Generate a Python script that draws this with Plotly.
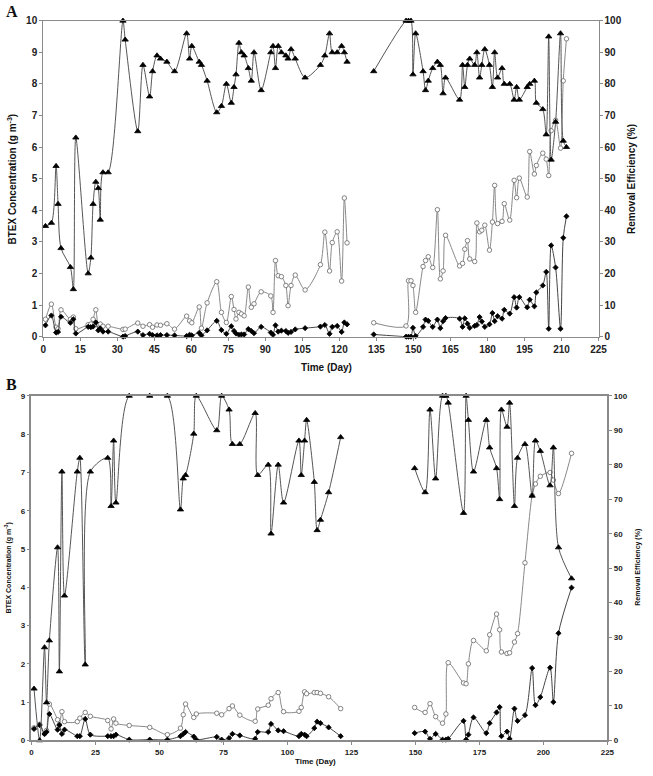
import plotly.graph_objects as go

# ---------------- Panel A data ----------------
a_day = [0.9, 3.3, 5.2, 6.0, 7.2, 11.0, 12.2, 13.2, 18.2, 19.3, 20.2, 21.3, 22.3, 23.1, 24.2, 26.3,
         32.3, 33.2, 38.3, 40.4, 43.1, 44.3, 46.1, 47.5, 50.1, 53.2, 58.1, 59.3, 60.2, 63.2, 64.1,
         66.4, 70.3, 72.2, 74.2, 76.2, 77.3, 78.1, 79.3, 80.3, 81.4, 83.1, 84.3, 85.4, 88.3, 92.2,
         93.1, 94.1, 95.2, 96.5, 98.3, 99.2, 100.4, 102.1, 106.1, 112.3, 114.1, 116.0, 117.1, 119.1,
         120.9, 122.0, 123.1, None,
         133.9, 147.0, 148.0, 149.0, 149.8, 150.9, 153.9, 154.9, 156.0, 157.8, 159.7, 160.9, 162.0,
         163.0, 168.7, 169.9, 170.8, 171.9, 172.8, 174.8, 175.7, 176.8, 177.7, 178.9, 180.8, 182.0,
         182.9, 184.1, 185.9, 186.8, 189.0, 190.8, 191.8, 192.9, 196.1, 197.1, 199.0, 199.8, 202.4,
         203.8, 204.8, 205.8, 207.6, 209.6, 210.7, 212.0]
a_re = [35, 36, 54, 42, 28, 22, 15, 63, 20, 25, 42, 49, 47, 37, 52, 52,
        100, 94, 65, 86, 76, 84, 89, 88, 87, 84, 96, 88, 92, 87, 86,
        81, 71, 73, 80, 74, 79, 83, 93, 90, 89, 85, 81, 90, 78, 90,
        92, 85, 92, 90, 89, 88, 91, 88, 82, 86, 89, 96, 90, 90,
        92, 90, 87, None,
        84, 100, 100, 100, 83, 96, 84, 78, 81, 85, 87, 86, 77,
        82, 75, 86, 79, 86, 88, 86, 90, 82, 86, 91, 86, 79,
        90, 82, 85, 80, 80, 75, 79, 75, 79, 80, 81, 74, 72,
        64, 95, 56, 68, 96, 62, 60]
a_inlet = [0.55, 1.03, 0.30, 0.25, 0.85, 0.55, 0.62, 0.25, 0.38, 0.40, 0.55, 0.85, 0.38, 0.40, 0.33, 0.33,
           0.23, 0.24, 0.43, 0.33, 0.38, 0.30, 0.37, 0.36, 0.41, 0.24, 0.65, 0.50, 0.44, 0.94, 0.27,
           1.07, 1.74, 0.77, 0.45, 1.27, 0.86, 0.56, 0.77, 0.72, 0.66, 1.57, 0.93, 1.04, 1.42, 1.29,
           0.77, 2.41, 1.93, 1.90, 1.62, 0.98, 1.62, 1.95, 1.48, 2.28, 3.31, 2.08, 2.98, 3.32,
           1.76, 4.39, 2.97, None,
           0.44, 0.34, 1.77, 1.77, 1.62, 0.77, 2.22, 2.41, 2.53, 2.19, 4.02, 1.83, 2.08,
           3.21, 2.24, 2.32, 2.77, 3.04, 2.46, 2.38, 3.60, 3.32, 3.37, 3.53, 2.74, 3.63,
           4.79, 3.58, 3.65, 4.21, 3.69, 4.95, 4.40, 5.02, 4.42, 5.86, 5.15, 5.42, 5.81,
           5.62, 5.10, 6.52, 6.85, 5.97, 8.10, 9.43]
a_outlet = [0.36, 0.67, 0.13, 0.15, 0.63, 0.44, 0.55, 0.10, 0.31, 0.30, 0.32, 0.45, 0.20, 0.26, 0.16, 0.16,
            0.00, 0.02, 0.16, 0.05, 0.09, 0.05, 0.04, 0.05, 0.05, 0.04, 0.02, 0.06, 0.04, 0.12, 0.04,
            0.20, 0.50, 0.21, 0.09, 0.33, 0.18, 0.10, 0.06, 0.07, 0.07, 0.24, 0.18, 0.11, 0.31, 0.13,
            0.06, 0.36, 0.16, 0.19, 0.18, 0.12, 0.15, 0.23, 0.27, 0.32, 0.37, 0.09, 0.31, 0.34,
            0.15, 0.45, 0.39, None,
            0.07, 0.00, 0.00, 0.00, 0.28, 0.02, 0.31, 0.54, 0.50, 0.31, 0.54, 0.27, 0.49,
            0.59, 0.57, 0.31, 0.58, 0.41, 0.28, 0.34, 0.37, 0.62, 0.48, 0.31, 0.39, 0.75,
            0.49, 0.65, 0.57, 0.85, 0.73, 1.25, 0.92, 1.25, 0.93, 1.17, 0.96, 1.40, 1.62,
            2.05, 0.25, 2.89, 2.19, 0.25, 3.13, 3.81]

# ---------------- Panel B data ----------------
b_day = [1.0, 3.2, 5.1, 5.9, 7.0, 10.2, 10.9, 11.9, 12.9, 17.9, 18.9, 21.0, 23.0, 29.8, 31.1, 32.1,
         33.0, 38.2, 46.2, 53.1, 58.2, 59.3, 60.2, 63.4, 64.4, 72.4, 74.3, 77.2, 78.5, 81.4, 87.4,
         88.4, 92.5, 93.6, 96.4, 98.5, 104.5, 105.4, 106.7, 107.5, 110.5, 111.6, 112.9, 116.1, 120.8,
         None,
         149.7, 153.8, 155.7, 157.9, 160.6, 161.9, 162.8, 168.8, 169.8, 170.7, 172.7, 177.7, 179.0,
         181.7, 182.9, 183.6, 185.8, 186.8, 188.7, 189.9, 192.8, 195.6, 196.9, 198.8, 202.6, 203.9,
         205.9, 211.0]
b_re = [15, 0, 27, 11, 29, 56, 20, 78, 42, 78, 82, 22, 78, 82, 68, 87,
        69, 100, 100, 100, 67, 76, 77, 89, 100, 90, 100, 96, 86, 86, 95,
        77, 80, 60, 80, 69, 87, 77, 87, 93, 75, 61, 64, 72, 88,
        None,
        79, 72, 96, 76, 100, 100, 98, 66, 100, 93, 78, 93, 85,
        79, 70, 96, 91, 98, 68, 82, 86, 71, 87, 84, 74, 85,
        56, 47]
b_inlet = [0.33, 0.42, 0.17, 0.26, 0.95, 0.54, 0.41, 0.75, 0.49, 0.49, 0.58, 0.73, 0.63, 0.52, 0.30, 0.56,
           0.45, 0.39, 0.34, 0.15, 0.32, 0.67, 0.95, 0.60, 0.69, 0.71, 0.67, 0.83, 0.90, 0.66, 0.50,
           0.82, 0.92, 1.09, 1.25, 0.75, 0.76, 0.86, 1.27, 1.22, 1.25, 1.25, 1.23, 1.14, 0.83,
           None,
           0.86, 0.73, 0.96, 0.62, 0.45, 0.69, 2.03, 1.50, 1.48, 2.00, 2.61, 2.34, 2.76,
           3.30, 2.89, 2.31, 2.27, 2.29, 2.57, 2.79, 4.64, 6.40, 6.70, 6.90, 7.00, 6.80,
           6.45, 7.50]
b_outlet = [0.30, 0.40, 0.17, 0.22, 0.69, 0.28, 0.40, 0.17, 0.28, 0.11, 0.11, 0.56, 0.15, 0.11, 0.11, 0.11,
            0.15, 0.02, 0.02, 0.02, 0.11, 0.17, 0.22, 0.10, 0.02, 0.09, 0.02, 0.06, 0.17, 0.13, 0.04,
            0.22, 0.22, 0.43, 0.26, 0.24, 0.11, 0.17, 0.15, 0.11, 0.32, 0.49, 0.45, 0.34, 0.11,
            None,
            0.19, 0.23, 0.04, 0.17, 0.02, 0.02, 0.04, 0.51, 0.02, 0.15, 0.60, 0.19, 0.45,
            0.73, 0.87, 0.11, 0.23, 0.04, 0.83, 0.51, 0.66, 1.89, 0.92, 1.13, 1.90, 1.00,
            2.80, 3.99]

a_xticks = list(range(0, 226, 15))
b_xticks = list(range(0, 226, 25))

FONT = "Liberation Sans"
AXC = "#8a8a8a"

fig = go.Figure()

def add_series(x, y, xa, ya, symbol, size, mcolor, mline, lcolor):
    fig.add_trace(go.Scatter(
        x=x, y=y, xaxis=xa, yaxis=ya, mode="lines+markers",
        line=dict(color=lcolor, width=1, shape="spline", smoothing=0.8),
        marker=dict(symbol=symbol, size=size, color=mcolor, line=dict(color=mline, width=0.8)),
        connectgaps=False, cliponaxis=False, showlegend=False, hoverinfo="skip"))

# Panel A
add_series(a_day, a_inlet, "x", "y", "circle", 4.5, "white", "#666", "#888")
add_series(a_day, a_outlet, "x", "y", "diamond", 4, "black", "black", "#444")
add_series(a_day, a_re, "x", "y2", "triangle-up", 5.5, "black", "black", "#555")
# Panel B
add_series(b_day, b_inlet, "x2", "y3", "circle", 4.5, "white", "#666", "#888")
add_series(b_day, b_outlet, "x2", "y3", "diamond", 4, "black", "black", "#444")
add_series(b_day, b_re, "x2", "y4", "triangle-up", 5.5, "black", "black", "#555")

tfA = dict(family=FONT, size=10, color="#222", weight="bold")
tfB = dict(family=FONT, size=8, color="#222", weight="bold")

common_ax = dict(showgrid=False, zeroline=False, showline=True, linecolor=AXC, linewidth=1,
                 ticks="outside", ticklen=3, tickcolor=AXC)

fig.update_layout(
    width=653, height=776, margin=dict(l=0, r=0, t=0, b=0),
    paper_bgcolor="white", plot_bgcolor="white",
    xaxis=dict(domain=[41/653, 606.7/653], anchor="y", range=[0, 225], tickvals=a_xticks,
               tickfont=tfA, mirror=True, **common_ax),
    yaxis=dict(domain=[1-336/776, 1-16/776], anchor="x", range=[0, 10], dtick=1,
               tickfont=tfA, **common_ax),
    yaxis2=dict(overlaying="y", side="right", anchor="x", range=[0, 100], dtick=10,
                tickfont=tfA, **common_ax),
    xaxis2=dict(domain=[29/653, 615.7/653], anchor="y3", range=[0, 225], tickvals=b_xticks,
                tickfont=tfB, mirror=True, **{**common_ax, "linewidth": 1.5}),
    yaxis3=dict(domain=[1-745/776, 1-396/776], anchor="x2", range=[0, 9], dtick=1,
                tickfont=tfB, **{**common_ax, "linewidth": 1.5}),
    yaxis4=dict(overlaying="y3", side="right", anchor="x2", range=[0, 100], dtick=10,
                tickfont=tfB, **{**common_ax, "linewidth": 1.5}),
)

def ann(text, x, y, size, angle=0, family=FONT, weight="bold"):
    fig.add_annotation(text=text, x=x/653, y=1-y/776, xref="paper", yref="paper",
                       showarrow=False, textangle=angle, xanchor="center", yanchor="middle",
                       font=dict(family=family, size=size, color="#111", weight=weight))

ann("A", 9, 7, 16, family="Liberation Serif")
ann("B", 9, 384, 16, family="Liberation Serif")
ann("BTEX Concentration (g m<sup>-3</sup>)", 9, 176, 10, angle=-90)
ann("Removal Efficiency (%)", 641, 176, 10, angle=-90)
ann("Time (Day)", 330, 367, 10)
ann("BTEX Concentration (g m<sup>-3</sup>)", 6, 570, 7, angle=-90)
ann("Removal Efficiency (%)", 647, 570, 7, angle=-90)
ann("Time (Day)", 318, 766, 8)

fig.write_html("out.html")
